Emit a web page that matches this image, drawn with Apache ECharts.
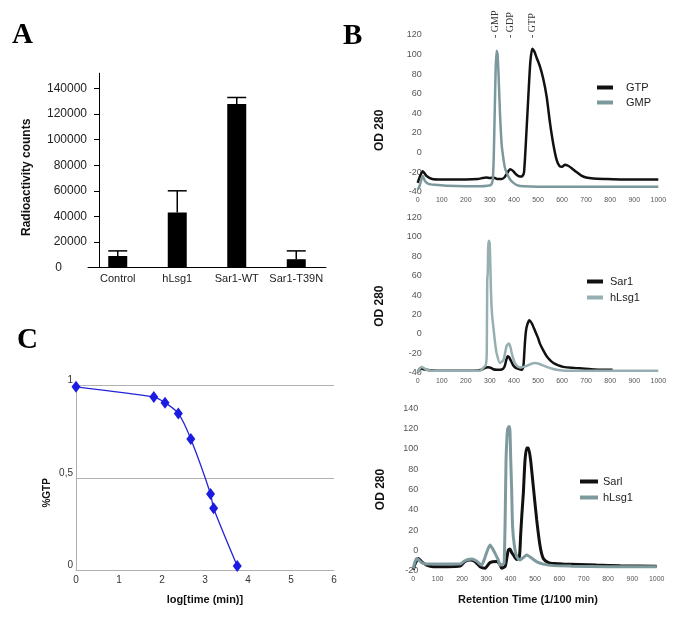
<!DOCTYPE html>
<html><head><meta charset="utf-8">
<script src="https://cdn.jsdelivr.net/npm/echarts@6/dist/echarts.min.js"></script>
<style>html,body{margin:0;padding:0;background:#fff}#c{width:685px;height:620px}</style>
</head><body><div id="c"></div>
<script>
// ---------- Panel A data ----------
const barCategories = ['Control', 'hLsg1', 'Sar1-WT', 'Sar1-T39N'];
const barValues = [9000, 43000, 128000, 6500];
const barErrorTops = [13000, 60000, 133000, 13000];

// ---------- Panel C data ----------
const logTime = [0, 1.81, 2.07, 2.38, 2.67, 3.13, 3.20, 3.75];
const pctGTP = [0.99, 0.935, 0.905, 0.847, 0.709, 0.413, 0.336, 0.025];

// ---------- Panel B1 data ----------
const gtpTime = [0, 10, 21, 37, 60, 100, 150, 200, 250, 270, 285, 300, 314, 330, 349, 362, 372, 384, 395, 404, 415, 425, 435, 442, 450, 460, 468, 476, 485, 494, 508, 522, 536, 550, 564, 578, 590, 600, 612, 625, 640, 660, 680, 700, 730, 780, 850, 920, 1000];
const gtpOD = [-31, -24, -19, -24, -27, -27.5, -27.5, -27.5, -27, -26, -25.5, -26, -25.5, -27, -27, -25, -21, -17, -18.5, -21, -23.5, -24.5, -24, -20, 12, 58, 92, 106, 103, 97, 88, 75, 57, 30, 8, -8, -14, -14.5, -12.5, -13.5, -16, -20, -23.5, -25.5, -26.5, -27, -27.5, -27.5, -27.5];
const gmpTime = [0, 8, 15, 21, 30, 45, 70, 120, 200, 260, 290, 305, 312, 316, 320, 324, 328, 332, 336, 342, 349, 356, 363, 372, 384, 398, 415, 440, 500, 600, 800, 1000];
const gmpOD = [-38, -34, -28, -24, -29, -32, -33, -34, -34.5, -34.5, -34, -33, -28, -5, 40, 85, 104, 100, 80, 40, 8, -6, -16, -22, -27.5, -31, -33.5, -34.5, -35, -35, -35, -35];
const peakLabels = ['- GMP', '- GDP', '- GTP'];
const peakTimes = [321, 386, 478];

// ---------- Panel B2 data ----------
const sar1Time = [0, 10, 24, 50, 79, 120, 180, 230, 266, 280, 292, 305, 314, 330, 342, 355, 362, 368, 374, 380, 388, 396, 405, 418, 432, 439, 443, 446, 450, 456, 464, 474, 488, 500, 508, 522, 536, 550, 564, 585, 605, 640, 675, 720, 760, 810];
const sar1OD = [-40, -35.5, -36.5, -37.5, -38, -38, -38, -38, -37, -35, -34.5, -35, -36.5, -37, -37, -36, -33, -27, -23, -24, -28, -32, -34.5, -36, -37, -34, -20, -8, 3, 10, 14, 11, 3, -4, -10, -17, -23, -27, -30, -32.5, -34, -35, -35.5, -36.5, -37, -37];
const hlsgTime2 = [0, 5, 17, 37, 60, 120, 200, 259, 273, 283, 287, 289, 291, 293, 296, 299, 302, 305, 309, 314, 321, 328, 342, 356, 363, 370, 379, 386, 391, 398, 404, 415, 425, 440, 453, 470, 488, 500, 515, 536, 560, 578, 620, 675, 800, 1000];
const hlsgOD2 = [-40, -37, -34, -37, -38, -38, -38, -38, -35, -32, -20, 56, 62, 90, 96, 94, 70, 40, 20, 8, -8, -20, -30, -27, -20, -12, -10, -14, -20, -26, -30, -33.5, -34.5, -34, -33, -31, -30, -30.5, -32, -34, -36, -37, -38, -38, -38, -38];

// ---------- Panel B3 data ----------
const sarlTime = [0, 7, 20, 34, 55, 82, 140, 192, 212, 233, 253, 274, 295, 315, 342, 356, 363, 377, 384, 390, 397, 404, 411, 425, 436, 441, 446, 452, 459, 466, 473, 482, 493, 507, 521, 534, 555, 580, 616, 680, 753, 850, 1000];
const sarlOD = [-19, -13.5, -8, -11, -14.5, -16, -16, -15.5, -11, -9.5, -11, -16, -17.5, -12, -11, -14, -17.5, -16, -8, 0, 1.5, -2, -4.5, -9, -6, 15, 35, 56, 89, 101, 101, 89, 63, 30, 4, -8, -12, -13, -13.5, -14, -14.5, -15, -15.5];
const hlsgTime3 = [0, 6, 14, 25, 34, 55, 100, 192, 210, 225, 240, 260, 281, 290, 300, 315, 325, 336, 350, 356, 365, 373, 378, 381, 385, 388, 393, 397, 400, 404, 408, 415, 425, 438, 452, 466, 480, 493, 510, 534, 575, 650, 800, 1000];
const hlsgOD3 = [-18, -12, -8, -10, -12, -13.5, -13.5, -13.5, -10.5, -9, -8.5, -10.5, -14.5, -10, -3, 5.3, 2, -3, -10, -14.5, -14, -12.8, 40, 89, 112, 120, 122, 118, 92, 60, 23, 5, -6.3, -9.5, -7, -4.5, -6.5, -8.8, -11.5, -13.5, -15, -15.5, -16, -16];

const SANS = '"Liberation Sans", Arial, Helvetica, sans-serif';
const SERIF = '"Liberation Serif", "Times New Roman", serif';
const BLACK = '#111111';
const GRAY1 = '#7b989c';
const GRAY2 = '#98afb2';
const GRAY3 = '#7f9a9e';

const zip = (a, b) => a.map((v, i) => [v, b[i]]);

function bX(gi) {
  return { type: 'value', gridIndex: gi, min: 0, max: 1000, interval: 100,
    axisLine: { show: false }, axisTick: { show: false }, splitLine: { show: false },
    axisLabel: { fontSize: 7, color: '#555', margin: 5, fontFamily: SANS, formatter: v => String(v) } };
}
function bY(gi, min, max, margin, nameGap, namePad) {
  return { type: 'value', gridIndex: gi, min: min, max: max, interval: 20,
    axisLine: { show: false }, axisTick: { show: false }, splitLine: { show: false },
    axisLabel: { fontSize: 9, color: '#555', margin: margin, fontFamily: SANS, formatter: v => String(v) },
    name: 'OD 280', nameLocation: 'middle', nameGap: nameGap,
    nameTextStyle: { fontSize: 12, fontWeight: 'bold', color: '#111', fontFamily: SANS, padding: namePad } };
}

const chart = echarts.init(document.getElementById('c'), null, { renderer: 'canvas' });

const option = {
  animation: false,
  backgroundColor: '#fff',
  grid: [
    { left: 88, top: 73.2, width: 238, height: 194.3 },        // A
    { left: 76, top: 385, width: 258, height: 185.7 },         // C
    { left: 417.7, top: 35, width: 240.6, height: 156.7 },     // B1
    { left: 417.7, top: 217.6, width: 240.6, height: 155.1 },  // B2
    { left: 413.3, top: 408.3, width: 243.4, height: 162.4 }   // B3
  ],
  xAxis: [
    { type: 'category', gridIndex: 0, data: barCategories,
      axisLine: { lineStyle: { color: '#000', width: 1 } }, axisTick: { show: false },
      axisLabel: { interval: 0, fontSize: 11, color: '#222', margin: 6, fontFamily: SANS } },
    { type: 'value', gridIndex: 1, min: 0, max: 6, interval: 1,
      axisLine: { lineStyle: { color: '#b0b0b0' } }, axisTick: { show: false }, splitLine: { show: false },
      axisLabel: { fontSize: 10, color: '#333', margin: 5, fontFamily: SANS },
      name: 'log[time (min)]', nameLocation: 'middle', nameGap: 24,
      nameTextStyle: { fontSize: 11, fontWeight: 'bold', color: '#111', fontFamily: SANS } },
    bX(2), bX(3),
    Object.assign(bX(4), { name: 'Retention Time (1/100 min)', nameLocation: 'middle', nameGap: 24,
      nameTextStyle: { fontSize: 11, fontWeight: 'bold', color: '#111', fontFamily: SANS, padding: [0, 14, 0, 0] } })
  ],
  yAxis: [
    { type: 'value', gridIndex: 0, min: 0, max: 152000, interval: 20000, offset: -11,
      axisLine: { show: true, lineStyle: { color: '#000', width: 1 } },
      axisTick: { show: true, length: 5, lineStyle: { color: '#000' } },
      splitLine: { show: false },
      axisLabel: { fontSize: 12, color: '#222', margin: 12, fontFamily: SANS, showMaxLabel: false,
        formatter: v => v === 0 ? '{z|0}' : String(v),
        rich: { z: { fontSize: 12, color: '#222', fontFamily: SANS, padding: [0, 25, 0, 0] } } },
      name: 'Radioactivity counts', nameLocation: 'middle', nameGap: 66,
      nameTextStyle: { fontSize: 12, fontWeight: 'bold', color: '#111', fontFamily: SANS, padding: [0, 14, 0, 0] } },
    { type: 'value', gridIndex: 1, min: 0, max: 1, interval: 0.5,
      axisLine: { show: true, lineStyle: { color: '#b0b0b0' } }, axisTick: { show: false },
      splitLine: { show: true, lineStyle: { color: '#b0b0b0' } },
      axisLabel: { fontSize: 10, color: '#333', margin: 3, fontFamily: SANS, verticalAlign: 'bottom',
        formatter: v => String(v).replace('.', ',') },
      name: '%GTP', nameLocation: 'middle', nameGap: 24,
      nameTextStyle: { fontSize: 10, fontWeight: 'bold', color: '#111', fontFamily: SANS, padding: [0, 30, 0, 0] } },
    bY(2, -40, 120, -4, 32, [0, 34, 0, 0]),
    bY(3, -40, 120, -4, 32, [0, 22, 0, 0]),
    bY(4, -20, 140, -5, 27, [0, 0, 0, 0])
  ],
  legend: [
    { orient: 'vertical', left: 597, top: 82, padding: 0, icon: 'rect', itemWidth: 16, itemHeight: 4, itemGap: 4,
      textStyle: { fontSize: 11, color: '#222', fontFamily: SANS, padding: [0, 0, 0, 8] },
      data: [{ name: 'GTP', itemStyle: { color: BLACK } }, { name: 'GMP', itemStyle: { color: GRAY1 } }] },
    { orient: 'vertical', left: 587, top: 276, padding: 0, icon: 'rect', itemWidth: 16, itemHeight: 4, itemGap: 5,
      textStyle: { fontSize: 11, color: '#222', fontFamily: SANS, padding: [0, 0, 0, 2] },
      data: [{ name: 'Sar1', itemStyle: { color: BLACK } }, { name: 'hLsg1', itemStyle: { color: GRAY2 } }] },
    { orient: 'vertical', left: 580, top: 476, padding: 0, icon: 'rect', itemWidth: 18, itemHeight: 4, itemGap: 5,
      textStyle: { fontSize: 11, color: '#222', fontFamily: SANS },
      data: [{ name: 'Sarl', itemStyle: { color: BLACK } }, { name: 'hLsg1', itemStyle: { color: GRAY3 } }] }
  ],
  series: [
    { type: 'bar', xAxisIndex: 0, yAxisIndex: 0, data: barValues, barWidth: 19,
      itemStyle: { color: '#000' } },
    { type: 'custom', xAxisIndex: 0, yAxisIndex: 0,
      data: barCategories.map((c, i) => [i, barValues[i], barErrorTops[i]]),
      renderItem: function (params, api) {
        const base = api.coord([api.value(0), api.value(1)]);
        const tip = api.coord([api.value(0), api.value(2)]);
        const hw = 9.5;
        return { type: 'group', children: [
          { type: 'line', shape: { x1: base[0], y1: base[1], x2: tip[0], y2: tip[1] }, style: { stroke: '#000', lineWidth: 1.5 } },
          { type: 'line', shape: { x1: tip[0] - hw, y1: tip[1], x2: tip[0] + hw, y2: tip[1] }, style: { stroke: '#000', lineWidth: 1.5 } }
        ] };
      } },
    { type: 'line', xAxisIndex: 1, yAxisIndex: 1, data: zip(logTime, pctGTP), smooth: 0.25,
      symbol: 'diamond', symbolSize: [9, 12],
      lineStyle: { color: '#2424d8', width: 1.3 }, itemStyle: { color: '#1c1ce0' } },
    { name: 'GTP', type: 'line', xAxisIndex: 2, yAxisIndex: 2, data: zip(gtpTime, gtpOD), smooth: 0.2,
      showSymbol: false, lineStyle: { color: BLACK, width: 2.5 }, itemStyle: { color: BLACK } },
    { name: 'GMP', type: 'line', xAxisIndex: 2, yAxisIndex: 2, data: zip(gmpTime, gmpOD), smooth: 0.2,
      showSymbol: false, lineStyle: { color: GRAY1, width: 2.5 }, itemStyle: { color: GRAY1 } },
    { name: 'Sar1', type: 'line', xAxisIndex: 3, yAxisIndex: 3, data: zip(sar1Time, sar1OD), smooth: 0.2,
      showSymbol: false, lineStyle: { color: BLACK, width: 2.5 }, itemStyle: { color: BLACK } },
    { name: 'hLsg1', type: 'line', xAxisIndex: 3, yAxisIndex: 3, data: zip(hlsgTime2, hlsgOD2), smooth: 0.2,
      showSymbol: false, lineStyle: { color: GRAY2, width: 2.5 }, itemStyle: { color: GRAY2 } },
    { name: 'Sarl', type: 'line', xAxisIndex: 4, yAxisIndex: 4, data: zip(sarlTime, sarlOD), smooth: 0.2,
      showSymbol: false, lineStyle: { color: BLACK, width: 3 }, itemStyle: { color: BLACK } },
    { name: 'hLsg1', type: 'line', xAxisIndex: 4, yAxisIndex: 4, data: zip(hlsgTime3, hlsgOD3), smooth: 0.2,
      showSymbol: false, lineStyle: { color: GRAY3, width: 3 }, itemStyle: { color: GRAY3 } }
  ]
};
chart.setOption(option);

// Panel letters and peak annotations (peak labels anchored to their retention times on the B1 axis)
const graphics = [
  { type: 'text', left: 12, top: 21, style: { text: 'A', font: 'bold 29px ' + SERIF, fill: '#000' } },
  { type: 'text', left: 343, top: 22, style: { text: 'B', font: 'bold 29px ' + SERIF, fill: '#000' } },
  { type: 'text', left: 17, top: 326, style: { text: 'C', font: 'bold 29px ' + SERIF, fill: '#000' } }
];
peakLabels.forEach((lab, i) => {
  const px = chart.convertToPixel({ gridIndex: 2 }, [peakTimes[i], 0]);
  graphics.push({ type: 'text', x: px[0], y: 38, rotation: Math.PI / 2,
    style: { text: lab, font: '10px ' + SERIF, fill: '#333', textAlign: 'left', textVerticalAlign: 'middle' } });
});
chart.setOption({ graphic: graphics });
</script></body></html>
